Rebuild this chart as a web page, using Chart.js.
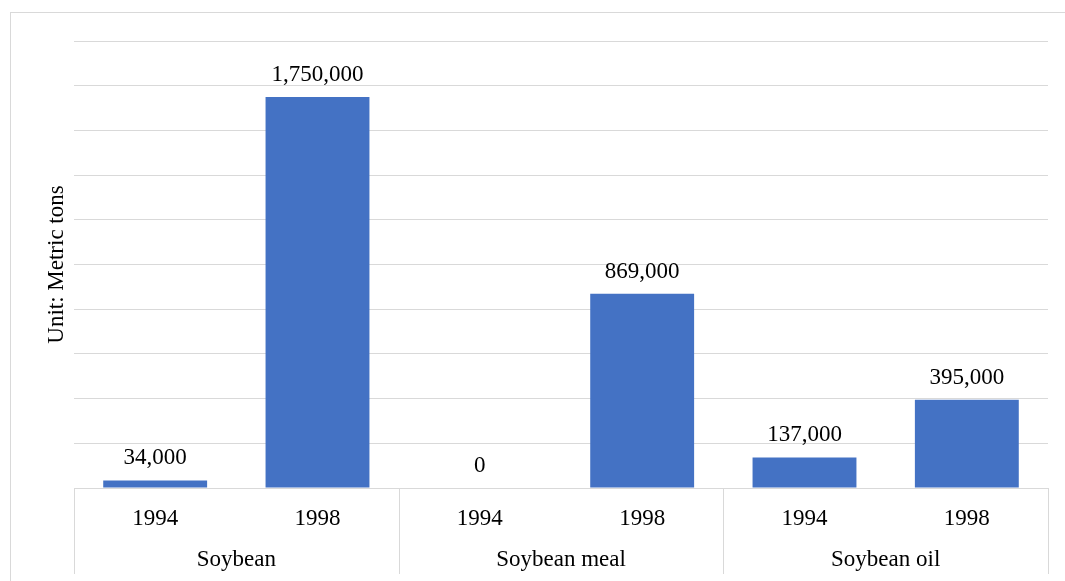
<!DOCTYPE html>
<html>
<head>
<meta charset="utf-8">
<script src="https://cdn.jsdelivr.net/npm/chart.js@4.4.1/dist/chart.umd.min.js"></script>
<style>
  html, body { margin: 0; padding: 0; background: #ffffff; overflow: hidden; }
  canvas { display: block; }
</style>
</head>
<body>
<canvas id="chart" width="1065" height="581"></canvas>
<script>
// Product groups and the two survey years shown under each one
const groupNames = ['Soybean', 'Soybean meal', 'Soybean oil'];
const years = ['1994', '1998'];

// Quantities in metric tons, 1994 then 1998
const soybeanValues = [34000, 1750000];
const soybeanMealValues = [0, 869000];
const soybeanOilValues = [137000, 395000];

// Y axis range and gridline step
const yMax = 2000000;
const yStep = 200000;

const groupValues = [soybeanValues, soybeanMealValues, soybeanOilValues];
const barLabels = [];
const barValues = [];
groupValues.forEach((vals, g) => {
  vals.forEach((v, i) => {
    barLabels.push(years[i]);
    barValues.push(v);
  });
});

const FONT_FAMILY = "'Liberation Serif', 'Times New Roman', serif";
const GRID = '#d9d9d9';

// Outer frame, group separators below the axis, and value labels above bars
const decorations = {
  id: 'decorations',
  beforeDraw(chart) {
    const ctx = chart.ctx;
    ctx.save();
    ctx.strokeStyle = GRID;
    ctx.lineWidth = 1;
    ctx.strokeRect(10.5, 12.5, 1200, 1200);
    ctx.restore();
  },
  afterDraw(chart) {
    const ctx = chart.ctx;
    const xs = chart.scales.x;
    const area = chart.chartArea;
    const perGroup = years.length;
    const bounds = [xs.left];
    for (let g = 1; g < groupNames.length; g++) {
      const a = xs.getPixelForValue(g * perGroup - 1);
      const b = xs.getPixelForValue(g * perGroup);
      bounds.push((a + b) / 2);
    }
    bounds.push(xs.right);
    ctx.save();
    ctx.strokeStyle = GRID;
    ctx.lineWidth = 1;
    bounds.forEach(px => {
      const x = Math.round(px) + 0.5;
      ctx.beginPath();
      ctx.moveTo(x, area.bottom);
      ctx.lineTo(x, 574);
      ctx.stroke();
    });
    ctx.restore();
  },
  afterDatasetsDraw(chart) {
    const ctx = chart.ctx;
    const meta = chart.getDatasetMeta(0);
    const data = chart.data.datasets[0].data;
    ctx.save();
    ctx.fillStyle = '#000000';
    ctx.font = '23px ' + FONT_FAMILY;
    ctx.textAlign = 'center';
    ctx.textBaseline = 'alphabetic';
    meta.data.forEach((bar, i) => {
      ctx.fillText(data[i].toLocaleString('en-US'), bar.x, bar.y - 16);
    });
    ctx.restore();
  }
};

new Chart(document.getElementById('chart'), {
  type: 'bar',
  data: {
    labels: barLabels,
    datasets: [{
      data: barValues,
      backgroundColor: '#4472C4',
      borderWidth: 0,
      barPercentage: 0.64,
      categoryPercentage: 1.0
    }]
  },
  options: {
    responsive: false,
    animation: false,
    devicePixelRatio: 1,
    layout: { padding: { top: 41, right: 17, left: 0, bottom: 0 } },
    plugins: {
      legend: { display: false },
      tooltip: { enabled: false }
    },
    scales: {
      x: {
        type: 'category',
        position: 'bottom',
        weight: 0,
        grid: { display: false },
        border: { display: true, color: GRID, width: 1 },
        ticks: {
          color: '#000000',
          font: { family: FONT_FAMILY, size: 23 },
          padding: 9,
          maxRotation: 0,
          autoSkip: false
        },
        afterFit(scale) { scale.height = 47; }
      },
      x2: {
        type: 'category',
        position: 'bottom',
        weight: 1,
        labels: groupNames,
        offset: true,
        grid: { display: false },
        border: { display: false },
        ticks: {
          color: '#000000',
          font: { family: FONT_FAMILY, size: 23 },
          padding: 3,
          maxRotation: 0,
          autoSkip: false
        },
        afterFit(scale) { scale.height = 46; }
      },
      y: {
        min: 0,
        max: yMax,
        grid: { color: GRID, lineWidth: 1, drawTicks: false },
        border: { display: false },
        ticks: { display: false, stepSize: yStep },
        title: {
          display: true,
          text: 'Unit: Metric tons',
          color: '#000000',
          font: { family: FONT_FAMILY, size: 23 },
          padding: { top: 43, bottom: 0 }
        },
        afterFit(scale) { scale.width = 74; }
      }
    }
  },
  plugins: [decorations]
});
</script>
</body>
</html>
